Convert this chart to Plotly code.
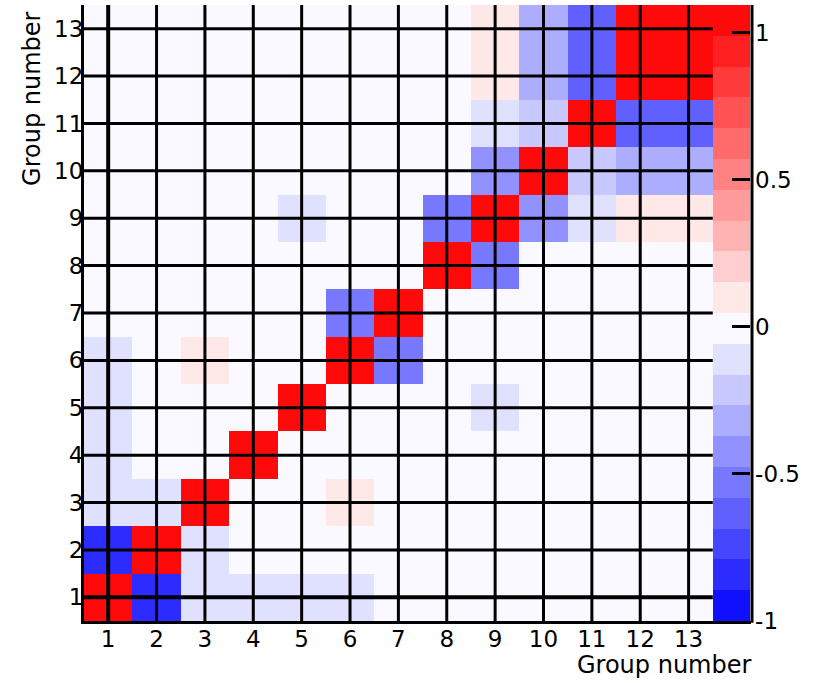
import plotly.graph_objects as go

# ---- data -------------------------------------------------------------
groups = list(range(1, 14))
tick_labels = [str(g) for g in groups]

# correlation matrix, row index = y group (1..13), column index = x group (1..13)
corr = [
    [1.00, -0.84, -0.10, -0.10, -0.10, -0.10, 0.00, 0.00, 0.00, 0.00, 0.00, 0.00, 0.00],   # group 1
    [-0.84, 1.00, -0.10, 0.00, 0.00, 0.00, 0.00, 0.00, 0.00, 0.00, 0.00, 0.00, 0.00],      # group 2
    [-0.10, -0.10, 1.00, 0.00, 0.00, 0.10, 0.00, 0.00, 0.00, 0.00, 0.00, 0.00, 0.00],      # group 3
    [-0.10, 0.00, 0.00, 1.00, 0.00, 0.00, 0.00, 0.00, 0.00, 0.00, 0.00, 0.00, 0.00],       # group 4
    [-0.10, 0.00, 0.00, 0.00, 1.00, 0.00, 0.00, 0.00, -0.10, 0.00, 0.00, 0.00, 0.00],      # group 5
    [-0.10, 0.00, 0.10, 0.00, 0.00, 1.00, -0.53, 0.00, 0.00, 0.00, 0.00, 0.00, 0.00],      # group 6
    [0.00, 0.00, 0.00, 0.00, 0.00, -0.53, 1.00, 0.00, 0.00, 0.00, 0.00, 0.00, 0.00],       # group 7
    [0.00, 0.00, 0.00, 0.00, 0.00, 0.00, 0.00, 1.00, -0.53, 0.00, 0.00, 0.00, 0.00],       # group 8
    [0.00, 0.00, 0.00, 0.00, -0.10, 0.00, 0.00, -0.53, 1.00, -0.42, -0.10, 0.10, 0.10],    # group 9
    [0.00, 0.00, 0.00, 0.00, 0.00, 0.00, 0.00, 0.00, -0.42, 1.00, -0.21, -0.32, -0.32],    # group 10
    [0.00, 0.00, 0.00, 0.00, 0.00, 0.00, 0.00, 0.00, -0.10, -0.21, 1.00, -0.63, -0.63],    # group 11
    [0.00, 0.00, 0.00, 0.00, 0.00, 0.00, 0.00, 0.00, 0.10, -0.32, -0.63, 1.00, 1.00],      # group 12
    [0.00, 0.00, 0.00, 0.00, 0.00, 0.00, 0.00, 0.00, 0.10, -0.32, -0.63, 1.00, 1.00],      # group 13
]

z_min = -1.0
z_max = 1.095
cbar_ticks = [-1, -0.5, 0, 0.5, 1]
cbar_ticktext = ["-1", "-0.5", "0", "0.5", "1"]

# ---- style ------------------------------------------------------------
level_colors = [
    "#1010ff", "#2c2cff", "#4646ff", "#6060ff", "#7878ff",
    "#9191ff", "#adadff", "#c8c8ff", "#e0e0ff", "#f9f9ff",
    "#ffe8e8", "#ffcfcf", "#ffb3b3", "#ff9b9b", "#ff8282",
    "#ff6b6b", "#ff5252", "#ff3a3a", "#ff2121", "#ff0a0a",
]
n_lev = len(level_colors)
colorscale = []
for k, c in enumerate(level_colors):
    colorscale.append([k / n_lev, c])
    colorscale.append([(k + 1) / n_lev, c])

FONT = "DejaVu Sans"
W, H = 819, 683
ML, MR, MT, MB = 84, 68, 5, 62
plot_w = W - ML - MR
plot_h = H - MT - MB

x_lo = groups[0] - 0.5
x_hi_data = groups[-1] + 0.5
x_hi = 14.29
y_lo = groups[0] - 0.5
y_hi = groups[-1] + 0.5

cb_left_frac = (x_hi_data - x_lo) / (x_hi - x_lo)
cb_thick = plot_w * (1 - cb_left_frac)

fig = go.Figure()
fig.add_trace(go.Heatmap(
    x=groups, y=groups, z=corr,
    zmin=z_min, zmax=z_max,
    colorscale=colorscale,
    colorbar=dict(
        x=cb_left_frac, xanchor="left", xref="paper",
        y=0.5, yanchor="middle", len=1, lenmode="fraction",
        thickness=cb_thick - 1, thicknessmode="pixels",
        xpad=0, ypad=0, outlinewidth=0,
        ticks="inside", ticklen=18, tickwidth=3, tickcolor="black",
        tickvals=cbar_ticks, ticktext=cbar_ticktext,
        tickfont=dict(family=FONT, size=23, color="black"),
    ),
    hoverinfo="skip",
))

shapes = []
for g in groups:
    w = 4 if g == groups[0] else 3
    shapes.append(dict(type="line", xref="x", yref="y", x0=g, x1=g, y0=y_lo, y1=y_hi,
                       line=dict(color="black", width=w), layer="above"))
    shapes.append(dict(type="line", xref="x", yref="y", x0=x_lo, x1=x_hi_data, y0=g, y1=g,
                       line=dict(color="black", width=w), layer="above"))
shapes.append(dict(type="line", xref="paper", yref="paper", x0=1.0015, x1=1.0015, y0=-0.003, y1=1,
                   line=dict(color="black", width=3), layer="above"))

fig.update_layout(
    width=W, height=H,
    margin=dict(l=ML, r=MR, t=MT, b=MB, autoexpand=False),
    paper_bgcolor="white", plot_bgcolor="white",
    font=dict(family=FONT, size=23, color="black"),
    shapes=shapes,
    xaxis=dict(range=[x_lo, x_hi], tickvals=groups, ticktext=tick_labels,
               showgrid=False, zeroline=False, showline=True, linecolor="black",
               linewidth=3, ticks="", automargin=False, ticklabelstandoff=-5,
               tickfont=dict(family=FONT, size=23)),
    yaxis=dict(range=[y_lo, y_hi], tickvals=groups, ticktext=tick_labels,
               showgrid=False, zeroline=False, showline=True, linecolor="black",
               linewidth=3, ticks="", automargin=False, ticklabelstandoff=-7,
               tickfont=dict(family=FONT, size=23)),
    annotations=[
        dict(text="Group number", xref="paper", yref="paper", x=1.003, y=-0.072,
             xanchor="right", yanchor="middle", showarrow=False,
             font=dict(family=FONT, size=24, color="black")),
        dict(text="Group number", xref="paper", yref="paper", x=-0.078, y=0.992,
             xanchor="center", yanchor="top", textangle=-90, showarrow=False,
             font=dict(family=FONT, size=24, color="black")),
    ],
)

fig.write_html("out.html", config={"displayModeBar": False},
               post_script="document.body.style.margin='0px';")
